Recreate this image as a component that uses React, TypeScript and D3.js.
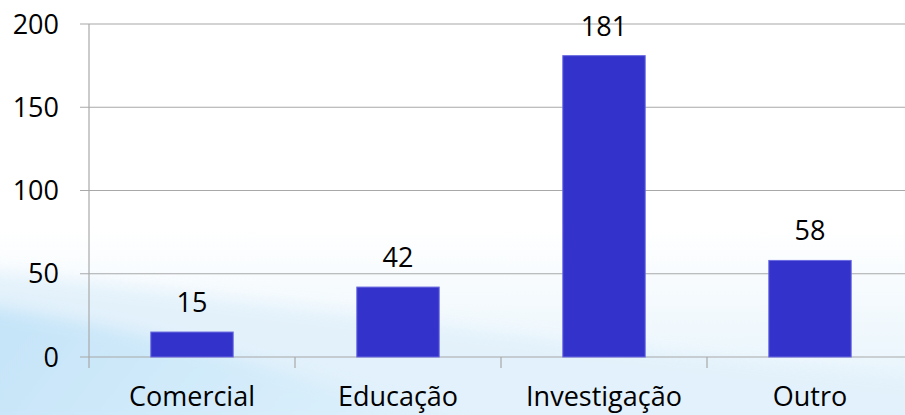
import React from 'react'
import * as d3 from 'd3'

const categories = ['Comercial', 'Educação', 'Investigação', 'Outro']
const values = [15, 42, 181, 58]
const yTicks = [0, 50, 100, 150, 200]

export default function App(){
  const width = 905, height = 415
  const m = { left: 89, top: 24, bottom: 357 }
  const x = d3.scaleBand<string>().domain(categories).range([m.left, 913]).paddingInner(0.6).paddingOuter(0.3)
  const y = d3.scaleLinear().domain([0, 200]).range([m.bottom, m.top])
  const font = '"Open Sans", sans-serif'
  const step = x.step()

  const swoosh1 = d3.path()
  swoosh1.moveTo(-20, 270)
  swoosh1.bezierCurveTo(260, 300, 600, 350, 925, 380)
  swoosh1.lineTo(925, 430)
  swoosh1.lineTo(-20, 430)
  swoosh1.closePath()

  const swoosh2 = d3.path()
  swoosh2.moveTo(-20, 305)
  swoosh2.bezierCurveTo(160, 330, 330, 380, 470, 430)
  swoosh2.lineTo(-20, 430)
  swoosh2.closePath()

  return (
    <svg width={width} height={height} style={{ position: 'absolute', left: 0, top: 0 }}>
      <defs>
        <linearGradient id="bg" x1="0" y1="0" x2="0" y2="1">
          <stop offset="0%" stopColor="#ffffff" />
          <stop offset="55%" stopColor="#ffffff" />
          <stop offset="100%" stopColor="#e3f2fb" />
        </linearGradient>
        <linearGradient id="sw2" x1="0" y1="0" x2="1" y2="0.2">
          <stop offset="0%" stopColor="#bfe2f8" />
          <stop offset="100%" stopColor="#dcf0fb" />
        </linearGradient>
        <filter id="soft" x="-10%" y="-10%" width="120%" height="120%">
          <feGaussianBlur stdDeviation="8" />
        </filter>
      </defs>
      <rect width={width} height={height} fill="url(#bg)" />
      <path d={swoosh1.toString()} fill="#e2f1fb" opacity={0.9} filter="url(#soft)" />
      <path d={swoosh2.toString()} fill="url(#sw2)" opacity={0.85} filter="url(#soft)" />

      {yTicks.map(t => (
        <g key={t}>
          <line x1={80} x2={width} y1={y(t)} y2={y(t)} stroke="#a8a8a8" strokeWidth={1.2} />
          <text x={59} y={y(t)} dy="0.36em" textAnchor="end" fontFamily={font} fontSize={27} fill="#000">{t}</text>
        </g>
      ))}
      <line x1={m.left} x2={m.left} y1={m.top} y2={m.bottom + 11} stroke="#a8a8a8" strokeWidth={1.2} />
      {categories.map((c, i) => (
        <line key={c} x1={m.left + step * (i + 1)} x2={m.left + step * (i + 1)} y1={m.bottom} y2={m.bottom + 11} stroke="#a8a8a8" strokeWidth={1.2} />
      ))}

      {categories.map((c, i) => (
        <g key={c}>
          <rect x={x(c)} y={y(values[i])} width={x.bandwidth()} height={y(0) - y(values[i])} fill="#3333cc" stroke="#6b6be0" strokeWidth={1} />
          <text x={(x(c) ?? 0) + x.bandwidth() / 2} y={y(values[i]) - 20} textAnchor="middle" fontFamily={font} fontSize={27} fill="#000">{values[i]}</text>
          <text x={(x(c) ?? 0) + x.bandwidth() / 2} y={406} textAnchor="middle" fontFamily={font} fontSize={27} fill="#000">{c}</text>
        </g>
      ))}
    </svg>
  )
}
